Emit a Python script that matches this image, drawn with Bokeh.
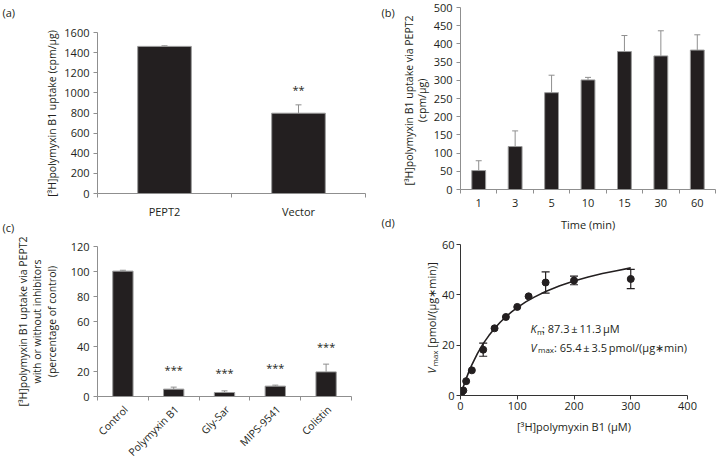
import math
from bokeh.plotting import figure
from bokeh.layouts import row, column
from bokeh.models import (Range1d, FixedTicker, SingleIntervalTicker, Whisker,
                          TeeHead, ColumnDataSource, Label)
from bokeh.core.properties import value
from bokeh.embed import file_html
from bokeh.resources import INLINE

FONT = "Open Sans"
INK = "#231f20"
AXIS_GREY = "#8f8f8f"
BAR_EDGE = "#9a9a9a"

# ---------------- data ----------------
# (a) uptake in PEPT2 vs vector cells
a_groups = ["PEPT2", "Vector"]
a_uptake = [1462, 798]
a_sem = [6, 83]
a_sig = ["", "**"]
a_ylabel = ["[\u00b3H]polymyxin B1 uptake (cpm/\u03bcg)"]

# (b) time course
b_times = ["1", "3", "5", "10", "15", "30", "60"]
b_uptake = [52, 118, 266, 301, 379, 367, 383]
b_sem = [27, 43, 48, 7, 44, 69, 42]
b_ylabel = ["[\u00b3H]polymyxin B1 uptake via PEPT2", "(cpm/\u03bcg)"]

# (c) inhibition
c_treat = ["Control", "Polymyxin B1", "Gly-Sar", "MIPS-9541", "Colistin"]
c_uptake = [100.3, 5.9, 3.2, 8.3, 19.7]
c_sem = [0.7, 1.6, 1.3, 0.8, 6.2]
c_sig = ["", "***", "***", "***", "***"]
c_ylabel = ["[\u00b3H]polymyxin B1 uptake via PEPT2",
            "with or without inhibitors", "(percentage of control)"]

# (d) kinetics
d_conc = [2, 5, 10, 20, 40, 60, 80, 100, 120, 150, 200, 300]
d_rate = [1.3, 2.0, 5.7, 10.0, 18.2, 26.7, 31.2, 35.2, 39.4, 44.9, 45.7, 46.3]
d_sem = [0, 0, 0, 0, 2.6, 0, 0, 0, 0, 4.2, 1.7, 3.8]
fit_conc = [0, 5, 10, 15, 20, 30, 40, 50, 60, 70, 80, 90, 100, 115, 130, 150,
            175, 200, 225, 250, 275, 300]
fit_rate = [0, 3.5, 6.7, 9.6, 12.2, 16.7, 20.6, 23.8, 26.6, 29.1, 31.3, 33.2,
            34.9, 37.2, 39.1, 41.3, 43.6, 45.5, 47.1, 48.5, 49.6, 50.7]
km_text = ": 87.3\u2009\u00b1\u200911.3\u2009\u03bcM"
vmax_text = ": 65.4\u2009\u00b1\u20093.5\u2009pmol/(\u03bcg\u2217min)"
d_ylabel_rest = "\u00a0[pmol/(\u03bcg\u2217min)]"


def panel(canvas, frame, xr, yr):
    cx0, cy0, cx1, cy1 = canvas
    fl, ft, fr, fb = frame
    p = figure(width=cx1 - cx0, height=cy1 - cy0,
               x_range=Range1d(*xr), y_range=Range1d(*yr),
               output_backend="svg", toolbar_location=None, tools="",
               min_border_left=fl - cx0, min_border_right=cx1 - fr,
               min_border_top=ft - cy0, min_border_bottom=cy1 - fb)
    p.frame_align = False
    p.outline_line_color = None
    p.grid.visible = False
    p.background_fill_color = "white"
    p.border_fill_color = "white"

    def to_data(sx, sy):
        return (xr[0] + (sx - fl) / (fr - fl) * (xr[1] - xr[0]),
                yr[0] + (fb - sy) / (fb - ft) * (yr[1] - yr[0]))
    return p, to_data


def style_axes(p, color):
    for ax in p.axis:
        ax.axis_line_color = color
        ax.major_tick_line_color = color
        ax.minor_tick_line_color = color
        ax.major_label_text_font = FONT
        ax.major_label_text_font_size = "11px"
        ax.major_label_text_color = INK
        ax.axis_label_text_font = FONT
        ax.axis_label_text_font_size = "11px"
        ax.axis_label_text_font_style = "normal"
        ax.axis_label_text_color = INK
        ax.major_tick_in = 0
        ax.major_tick_out = 4
        ax.minor_tick_in = 0
        ax.minor_tick_out = 0


def category_axis(p, labels, show=True):
    centers = [i + 0.5 for i in range(len(labels))]
    ax = p.xaxis[0]
    ax.ticker = FixedTicker(ticks=centers, minor_ticks=list(range(len(labels) + 1)))
    ax.major_label_overrides = {c: (l if show else "") for c, l in zip(centers, labels)}
    ax.major_tick_out = 0
    ax.minor_tick_out = 4
    return centers


def bars(p, centers, vals, errs, width=0.4):
    p.vbar(x=centers, top=vals, width=width, fill_color=INK,
           line_color=BAR_EDGE, line_width=1)
    src = ColumnDataSource(dict(x=centers, lo=vals,
                                hi=[v + e for v, e in zip(vals, errs)]))
    p.add_layout(Whisker(source=src, base="x", lower="lo", upper="hi",
                         line_color=AXIS_GREY, line_width=1, lower_head=None,
                         upper_head=TeeHead(size=6, line_color=AXIS_GREY, line_width=1),
                         level="underlay"))


def stars(p, centers, vals, errs, sig, off):
    xs, ys, ts = [], [], []
    for c, v, e, s in zip(centers, vals, errs, sig):
        if s:
            xs.append(c); ys.append(v + e); ts.append(s)
    p.text(x=xs, y=ys, text=ts, y_offset=off, text_font=value(FONT),
           text_font_size="11px", text_color=INK, text_align="center",
           text_baseline="alphabetic")


def free_text(p, xy, text, size=11, style="normal", angle=0.0, align="left",
              baseline="alphabetic"):
    # overlay-level text glyph, so it may sit in the plot borders
    p.text(x=[xy[0]], y=[xy[1]], text=[text], angle=angle,
           text_font=value(FONT), text_font_size=f"{size}px",
           text_font_style=style, text_color=INK, text_align=align,
           text_baseline=baseline, level="overlay")


def note(p, xy, text, size=11, style="normal"):
    p.add_layout(Label(x=xy[0], y=xy[1], text=text, text_font=FONT,
                       text_font_size=f"{size}px", text_font_style=style,
                       text_color=INK, text_align="left",
                       text_baseline="alphabetic"))


def y_title(p, to_data, lines, xs, cy, size=10.5):
    for line, sx in zip(lines, xs):
        free_text(p, to_data(sx, cy), line, size=size, angle=math.pi / 2,
                  align="center", baseline="middle")


# ---------------- (a) ----------------
pa, A = panel((0, 0, 366, 234), (97, 32, 365, 193), (0, len(a_groups)), (0, 1600))
style_axes(pa, AXIS_GREY)
pa.yaxis.ticker = SingleIntervalTicker(interval=200, num_minor_ticks=0)
pa.yaxis.major_label_standoff = 4
ca = category_axis(pa, a_groups)
pa.xaxis.major_label_standoff = 6
bars(pa, ca, a_uptake, a_sem)
stars(pa, ca, a_uptake, a_sem, a_sig, -15)
y_title(pa, A, a_ylabel, [51], 113)
free_text(pa, A(2, 12), "(a)")
free_text(pa, A(2, 227), "(c)")

# ---------------- (b) ----------------
pb, B = panel((366, 0, 717, 234), (460, 7, 715, 193), (0, len(b_times)), (0, 500))
style_axes(pb, AXIS_GREY)
pb.yaxis.ticker = SingleIntervalTicker(interval=50, num_minor_ticks=0)
pb.yaxis.major_label_standoff = 4
cb = category_axis(pb, b_times)
pb.xaxis.major_label_standoff = 5
pb.xaxis.axis_label = "Time (min)"
pb.xaxis.axis_label_standoff = 7
bars(pb, cb, b_uptake, b_sem, width=0.38)
y_title(pb, B, b_ylabel, [408, 421], 102)
free_text(pb, B(381, 12), "(b)")
free_text(pb, B(381, 227), "(d)")

# ---------------- (c) ----------------
pc, C = panel((0, 234, 366, 459), (97, 246, 351, 396), (0, len(c_treat)), (0, 120))
style_axes(pc, AXIS_GREY)
pc.yaxis.ticker = SingleIntervalTicker(interval=20, num_minor_ticks=0)
pc.yaxis.major_label_standoff = 4
cc = category_axis(pc, c_treat, show=False)
bars(pc, cc, c_uptake, c_sem)
stars(pc, cc, c_uptake, c_sem, c_sig, -18)
y_title(pc, C, c_ylabel, [22, 36.5, 51], 321)
pc.text(x=cc, y=[0] * len(cc), text=c_treat, angle=math.pi / 4,
        x_offset=3, y_offset=11, text_font=value(FONT), text_font_size="10.5px",
        text_color=INK, text_align="right", text_baseline="middle", level="overlay")

# ---------------- (d) ----------------
pd_, D = panel((366, 234, 717, 459), (460, 244, 687, 395), (0, 400), (0, 60))
style_axes(pd_, "#333333")
pd_.xaxis.ticker = SingleIntervalTicker(interval=100, num_minor_ticks=0)
pd_.yaxis.ticker = SingleIntervalTicker(interval=20, num_minor_ticks=0)
pd_.xaxis.major_label_standoff = 2
pd_.yaxis.major_label_standoff = 2
pd_.xaxis.axis_label = "[\u00b3H]polymyxin B1 (\u03bcM)"
pd_.xaxis.axis_label_standoff = 6
pd_.line(fit_conc, fit_rate, line_color=INK, line_width=1.6)
wsrc = ColumnDataSource(dict(
    x=[c for c, e in zip(d_conc, d_sem) if e > 0],
    lo=[r - e for r, e in zip(d_rate, d_sem) if e > 0],
    hi=[r + e for r, e in zip(d_rate, d_sem) if e > 0]))
pd_.add_layout(Whisker(source=wsrc, base="x", lower="lo", upper="hi",
                       line_color=INK, line_width=1.2,
                       lower_head=TeeHead(size=8, line_color=INK, line_width=1.2),
                       upper_head=TeeHead(size=8, line_color=INK, line_width=1.2)))
pd_.scatter(d_conc, d_rate, size=7, fill_color=INK, line_color=INK)

# Km / Vmax annotation with subscripts
note(pd_, D(530, 328.3), "K", style="italic")
note(pd_, D(536.5, 331), "m", size=8)
note(pd_, D(541.5, 328.3), km_text)
note(pd_, D(530, 346.7), "V", style="italic")
note(pd_, D(537.5, 349.4), "max", size=8)
note(pd_, D(553.5, 346.7), vmax_text)

# rotated y-axis title with subscript
free_text(pd_, D(431, 373), "V", size=11, style="italic", angle=math.pi / 2)
free_text(pd_, D(433.5, 366), "max", size=8, angle=math.pi / 2)
free_text(pd_, D(431, 350), d_ylabel_rest, size=11, angle=math.pi / 2)

layout = column(row(pa, pb), row(pc, pd_))
open("out.html", "w").write(file_html(layout, INLINE))
